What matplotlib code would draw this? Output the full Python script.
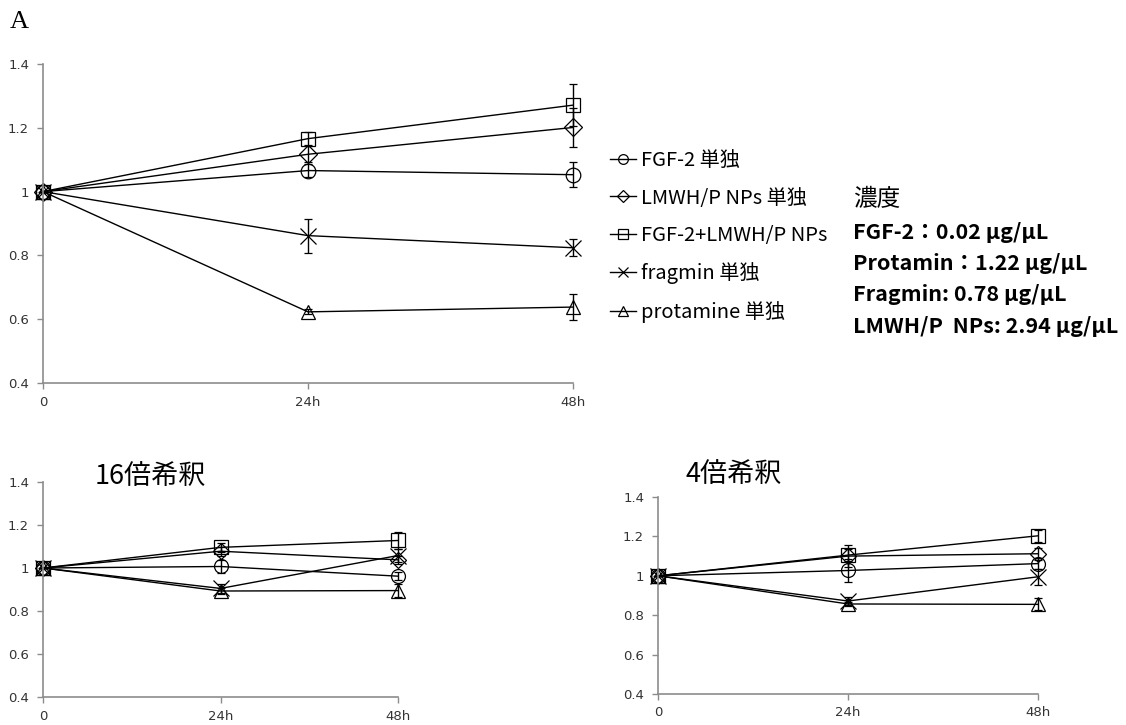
import matplotlib
matplotlib.use("Agg")
import matplotlib.pyplot as plt
import numpy as np
from matplotlib.lines import Line2D

plt.rcParams['font.family'] = ['Noto Sans CJK JP', 'DejaVu Sans']

# ---------------- data ----------------
times = ['0', '24h', '48h']
series = ['FGF-2 単独', 'LMWH/P NPs 単独', 'FGF-2+LMWH/P NPs', 'fragmin 単独', 'protamine 単独']
markers = ['o', 'D', 's', 'x', '^']

# Panel A (top)
top_fgf2 = [1.0, 1.066, 1.053]
top_lmwh = [1.0, 1.117, 1.201]
top_combo = [1.0, 1.166, 1.271]
top_fragmin = [1.0, 0.862, 0.824]
top_protamine = [1.0, 0.623, 0.638]
top_fgf2_err = [0.0, 0.02, 0.04]
top_lmwh_err = [0.0, 0.025, 0.06]
top_combo_err = [0.0, 0.02, 0.065]
top_fragmin_err = [0.0, 0.053, 0.027]
top_protamine_err = [0.0, 0.008, 0.042]

# 16-fold dilution
d16_fgf2 = [1.0, 1.007, 0.962]
d16_lmwh = [1.0, 1.078, 1.038]
d16_combo = [1.0, 1.096, 1.128]
d16_fragmin = [1.0, 0.905, 1.058]
d16_protamine = [1.0, 0.893, 0.895]
d16_fgf2_err = [0.0, 0.03, 0.02]
d16_lmwh_err = [0.0, 0.02, 0.02]
d16_combo_err = [0.0, 0.02, 0.04]
d16_fragmin_err = [0.0, 0.02, 0.03]
d16_protamine_err = [0.0, 0.015, 0.03]

# 4-fold dilution
d4_fgf2 = [1.0, 1.027, 1.062]
d4_lmwh = [1.0, 1.100, 1.112]
d4_combo = [1.0, 1.105, 1.203]
d4_fragmin = [1.0, 0.872, 0.995]
d4_protamine = [1.0, 0.857, 0.855]
d4_fgf2_err = [0.0, 0.06, 0.03]
d4_lmwh_err = [0.0, 0.055, 0.03]
d4_combo_err = [0.0, 0.03, 0.03]
d4_fragmin_err = [0.0, 0.02, 0.04]
d4_protamine_err = [0.0, 0.01, 0.03]

yticks = [0.4, 0.6, 0.8, 1.0, 1.2, 1.4]
ytick_labels = ['0.4', '0.6', '0.8', '1', '1.2', '1.4']

conc_title = '濃度'
conc_lines = ['FGF-2：0.02 μg/μL', 'Protamin：1.22 μg/μL',
              'Fragmin: 0.78 μg/μL', 'LMWH/P  NPs: 2.94 μg/μL']

# ---------------- drawing ----------------
fig = plt.figure(figsize=(11.26, 7.25), dpi=100)

axis_gray = '#8c8c8c'
label_color = '#333333'


def style_axes(ax):
    x = np.arange(len(times))
    ax.set_xlim(x[0], x[-1])
    ax.set_ylim(0.4, 1.4)
    ax.set_xticks(x)
    ax.set_xticklabels(times, family='DejaVu Sans', fontsize=9.5, color=label_color)
    ax.set_yticks(yticks)
    ax.set_yticklabels(ytick_labels, family='DejaVu Sans', fontsize=9.5, color=label_color)
    for s in ['top', 'right']:
        ax.spines[s].set_visible(False)
    for s in ['left', 'bottom']:
        ax.spines[s].set_color(axis_gray)
        ax.spines[s].set_linewidth(1.2)
    ax.tick_params(axis='both', direction='out', length=4, width=1.0, color=axis_gray)
    ax.tick_params(axis='y', pad=6)
    ax.tick_params(axis='x', pad=5)
    ax.set_facecolor('none')


def draw(ax, vals, errs, ms=10.5):
    x = np.arange(len(times))
    handles = []
    for v, e, m, lab in zip(vals, errs, markers, series):
        size = ms * (0.85 if m == 'D' else 1.0)
        size = size * (1.1 if m == 'x' else 1.0)
        h = ax.errorbar(x, v, yerr=e, marker=m, ms=size, mfc='none', mec='black',
                        mew=0.9, color='black', lw=1.0, elinewidth=1.0,
                        capsize=3, capthick=1.0, label=lab, clip_on=False)
        handles.append(h)
    return handles


# Panel A
axA = fig.add_axes([43 / 1126, 1 - 383 / 725, 530 / 1126, 319 / 725])
draw(axA, [top_fgf2, top_lmwh, top_combo, top_fragmin, top_protamine],
     [top_fgf2_err, top_lmwh_err, top_combo_err, top_fragmin_err, top_protamine_err])
style_axes(axA)

# 16x
ax16 = fig.add_axes([43 / 1126, 1 - 697 / 725, 355 / 1126, 215 / 725])
draw(ax16, [d16_fgf2, d16_lmwh, d16_combo, d16_fragmin, d16_protamine],
     [d16_fgf2_err, d16_lmwh_err, d16_combo_err, d16_fragmin_err, d16_protamine_err], ms=10)
style_axes(ax16)

# 4x
ax4 = fig.add_axes([658 / 1126, 1 - 694 / 725, 380 / 1126, 197 / 725])
draw(ax4, [d4_fgf2, d4_lmwh, d4_combo, d4_fragmin, d4_protamine],
     [d4_fgf2_err, d4_lmwh_err, d4_combo_err, d4_fragmin_err, d4_protamine_err], ms=10)
style_axes(ax4)

# Legend
leg_handles = [Line2D([0], [0], color='black', lw=1.0, marker=m, ms=7 if m != 'D' else 6,
                      mfc='none', mec='black', mew=0.9) for m in markers]
fig.legend(leg_handles, series, loc='upper left', bbox_to_anchor=(610 / 1126, 1 - 150 / 725),
           frameon=False, fontsize=14.5, handlelength=1.3, handletextpad=0.25,
           labelspacing=0.82, borderpad=0, borderaxespad=0)

# Concentration text
fig.text(853 / 1126, 1 - 200 / 725, conc_title, fontsize=17, va='center', ha='left')
for yy, t in zip([232, 264, 295, 326], conc_lines):
    fig.text(853 / 1126, 1 - yy / 725, t, fontsize=15.5, fontweight='bold', va='center', ha='left')

# Titles
fig.text(10 / 1126, 1 - 22 / 725, 'A', family='Liberation Serif', fontsize=19, va='center', ha='left')
fig.text(95 / 1126, 1 - 476 / 725, '16倍希釈', fontsize=19.5, va='center', ha='left')
fig.text(685 / 1126, 1 - 475 / 725, '4倍希釈', fontsize=19.5, va='center', ha='left')

fig.savefig('out.png', dpi=100)
